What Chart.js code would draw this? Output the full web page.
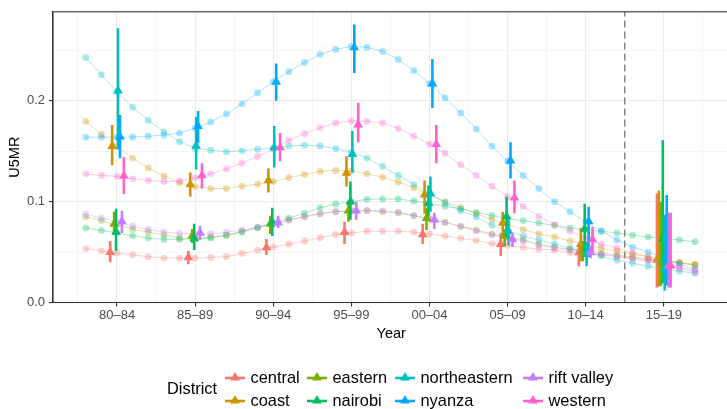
<!DOCTYPE html>
<html>
<head>
<meta charset="utf-8">
<script src="https://cdn.jsdelivr.net/npm/chart.js@4.4.0/dist/chart.umd.min.js"></script>
<style>
  html, body { margin: 0; padding: 0; background: #fff; overflow: hidden; }
  body { width: 727px; height: 409px; position: relative; font-family: 'Liberation Sans', Arial, sans-serif; }
  #wrap { position: absolute; left: 0; top: 0; width: 735px; height: 409px; }
  .leg { position: absolute; font-size: 16.4px; color: #000; white-space: nowrap; line-height: 20px; height: 20px; }
  .leg svg { position: absolute; left: 0; top: 3px; }
</style>
</head>
<body>
<div id="wrap"><canvas id="chart" width="735" height="409"></canvas></div>
<div id="legend"></div>
<script>
// districts and colours (ggplot hue palette)
const districts = ['central', 'coast', 'eastern', 'nairobi', 'northeastern', 'nyanza', 'rift valley', 'western'];
const colors = ['#F8766D', '#CD9600', '#7CAE00', '#00BE67', '#00BFC4', '#00A9FF', '#C77CFF', '#FF61CC'];

// 5-year periods
const periodLabels = ['80–84', '85–89', '90–94', '95–99', '00–04', '05–09', '10–14', '15–19'];
const periodYears = [1982, 1987, 1992, 1997, 2002, 2007, 2012, 2017];
const cutoffYear = 2014.5;

// y axis ticks
const yTicks = [0, 0.05, 0.1, 0.15, 0.2, 0.25];
const yMax = 0.2883;

// yearly smoothed estimates
const smoothYears = [1980, 1981, 1982, 1983, 1984, 1985, 1986, 1987, 1988, 1989,
  1990, 1991, 1992, 1993, 1994, 1995, 1996, 1997, 1998, 1999,
  2000, 2001, 2002, 2003, 2004, 2005, 2006, 2007, 2008, 2009,
  2010, 2011, 2012, 2013, 2014, 2015, 2016, 2017, 2018, 2019];

const smoothCentral = [.0535, .0512, .049, .0473, .0454, .0441, .0441, .0441, .0447, .0454,
  .0486, .0519, .055, .0578, .061, .0642, .0675, .069, .0707, .0707,
  .0707, .0698, .068, .0659, .0636, .0614, .0584, .0565, .0545, .0529,
  .052, .0496, .0483, .0473, .0454, .0441, .0424, .041, .0395, .037];
const smoothCoast = [.1797, .1667, .155, .1432, .1335, .1254, .1188, .115, .113, .113,
  .1153, .1173, .120, .1237, .127, .130, .131, .1305, .1276, .1244,
  .1195, .1137, .107, .100, .0941, .088, .0821, .077, .0724, .068,
  .065, .061, .058, .0538, .051, .048, .0454, .043, .0398, .038];
const smoothEastern = [.085, .0812, .077, .0727, .0698, .067, .064, .0635, .065, .067,
  .0705, .074, .078, .082, .085, .088, .090, .091, .091, .090,
  .089, .086, .083, .0795, .0755, .072, .068, .065, .062, .058,
  .055, .053, .051, .049, .047, .045, .043, .041, .039, .037];
const smoothNairobi = [.074, .0714, .069, .0662, .0639, .0626, .0626, .063, .064, .0665,
  .0698, .0746, .079, .0837, .0886, .0941, .0977, .100, .1023, .1026,
  .1026, .1007, .098, .0955, .0929, .0893, .0863, .083, .0812, .0788,
  .0766, .074, .072, .0707, .069, .0668, .0649, .0635, .062, .0603];
const smoothNortheastern = [.243, .2259, .209, .1937, .1807, .1693, .1595, .153, .151, .1495,
  .1504, .152, .153, .1553, .156, .1553, .1527, .149, .1432, .1351,
  .126, .117, .108, .099, .091, .0847, .0766, .071, .0659, .062,
  .058, .054, .050, .046, .042, .039, .036, .033, .031, .029];
const smoothNyanza = [.164, .164, .164, .164, .165, .166, .168, .173, .179, .187,
  .197, .208, .219, .229, .238, .246, .251, .254, .253, .249,
  .241, .230, .217, .203, .188, .172, .155, .140, .126, .113,
  .100, .090, .080, .071, .062, .055, .050, .044, .038, .033];
const smoothRiftValley = [.0876, .0837, .080, .0756, .0724, .0698, .0685, .068, .0681, .0698,
  .0717, .0746, .078, .0815, .0854, .088, .0902, .091, .0912, .0909,
  .0895, .0865, .083, .0795, .0755, .071, .067, .064, .061, .057,
  .054, .052, .050, .048, .046, .043, .041, .038, .035, .032];
const smoothWestern = [.1276, .126, .125, .1227, .1211, .120, .1205, .1235, .1276, .1325,
  .1383, .1449, .152, .1608, .1676, .1732, .178, .180, .1797, .178,
  .1725, .165, .157, .148, .1364, .126, .1153, .105, .0951, .0854,
  .0773, .0707, .064, .0578, .0538, .0496, .045, .039, .034, .030];

// period estimates with intervals
const estCentral = [.050, .0447, .0545, .0698, .0675, .0578, .0496, .0421];
const loCentral = [.040, .038, .047, .058, .058, .046, .036, .015];
const hiCentral = [.061, .051, .063, .080, .078, .069, .058, .108];
const estCoast = [.155, .117, .121, .1286, .107, .0788, .0578, .045];
const loCoast = [.136, .105, .109, .115, .088, .064, .041, .016];
const hiCoast = [.176, .129, .133, .145, .121, .090, .074, .111];
const estEastern = [.078, .066, .078, .091, .0837, .0659, .0512, .040];
const loEastern = [.067, .059, .068, .080, .072, .056, .041, .016];
const hiEastern = [.090, .073, .086, .101, .094, .073, .061, .100];
const estNairobi = [.070, .0636, .0795, .100, .0984, .0854, .073, .0636];
const loNairobi = [.051, .052, .066, .082, .086, .066, .048, .019];
const hiNairobi = [.093, .078, .094, .120, .116, .105, .098, .161];
const estNortheastern = [.210, .1553, .1537, .1471, .1081, .0707, .048, .0334];
const loNortheastern = [.152, .132, .134, .1286, .090, .057, .036, .012];
const hiNortheastern = [.272, .184, .175, .170, .125, .082, .060, .087];
const estNyanza = [.1644, .1748, .2187, .2529, .2171, .1407, .0805, .0431];
const loNyanza = [.143, .158, .200, .2275, .193, .123, .051, .017];
const hiNyanza = [.186, .190, .237, .2756, .2415, .159, .095, .1065];
const estRiftValley = [.0805, .069, .0795, .091, .0821, .0626, .0496, .0366];
const loRiftValley = [.069, .062, .074, .082, .073, .055, .044, .015];
const hiRiftValley = [.091, .076, .086, .100, .089, .069, .056, .089];
const estWestern = [.1254, .126, .1537, .1764, .1569, .1039, .0626, .0366];
const loWestern = [.1075, .113, .140, .159, .138, .0886, .050, .015];
const hiWestern = [.144, .138, .168, .198, .176, .121, .075, .089];

const smooth = [smoothCentral, smoothCoast, smoothEastern, smoothNairobi, smoothNortheastern, smoothNyanza, smoothRiftValley, smoothWestern];
const est = [estCentral, estCoast, estEastern, estNairobi, estNortheastern, estNyanza, estRiftValley, estWestern];
const lo = [loCentral, loCoast, loEastern, loNairobi, loNortheastern, loNyanza, loRiftValley, loWestern];
const hi = [hiCentral, hiCoast, hiEastern, hiNairobi, hiNortheastern, hiNyanza, hiRiftValley, hiWestern];

function alpha(hex, a) {
  const n = parseInt(hex.slice(1), 16);
  return `rgba(${n >> 16},${(n >> 8) & 255},${n & 255},${a})`;
}

const dodge = 1 / districts.length;
const datasets = [];

// dashed separator
datasets.push({
  type: 'line',
  data: [{ x: cutoffYear, y: 0 }, { x: cutoffYear, y: yMax }],
  borderColor: '#808080', borderWidth: 1.4, borderDash: [7, 4],
  pointRadius: 0, order: 20
});

districts.forEach((d, i) => {
  const off = (i - (districts.length - 1) / 2) * dodge;
  datasets.push({
    type: 'line',
    data: smoothYears.map((yr, j) => ({ x: yr, y: smooth[i][j] })),
    borderColor: alpha(colors[i], 0.33), borderWidth: 1,
    pointRadius: 3.4, pointBackgroundColor: alpha(colors[i], 0.33), pointBorderWidth: 0,
    order: 10 + (7 - i) * 0.01
  });
  const bars = [];
  periodYears.forEach((p, k) => {
    bars.push({ x: p + off, y: lo[i][k] }, { x: p + off, y: hi[i][k] }, { x: p + off, y: null });
  });
  datasets.push({
    type: 'line', data: bars, spanGaps: false,
    borderColor: colors[i], borderWidth: 2.6, borderCapStyle: 'butt',
    pointRadius: 0, order: 1 + (7 - i) * 0.01 + 0.005
  });
  datasets.push({
    type: 'line', showLine: false,
    data: periodYears.map((p, k) => ({ x: p + off, y: est[i][k] })),
    pointStyle: 'triangle', pointRadius: 5.6,
    pointBackgroundColor: colors[i], pointBorderWidth: 0,
    order: 1 + (7 - i) * 0.01
  });
});

const xMinor = [1979.5, 1984.5, 1989.5, 1994.5, 1999.5, 2004.5, 2009.5, 2014.5, 2019.5];
const tickFont = { family: 'Liberation Sans', size: 13 };
const titleFont = { family: 'Liberation Sans', size: 14.5 };

const panelBorder = {
  id: 'panelBorder',
  afterDatasetsDraw(chart) {
    const { ctx, chartArea: a } = chart;
    ctx.save();
    ctx.strokeStyle = '#333333';
    ctx.lineWidth = 1.1;
    ctx.strokeRect(a.left, a.top, a.right - a.left, a.bottom - a.top);
    ctx.restore();
  }
};

new Chart(document.getElementById('chart'), {
  type: 'line',
  data: { datasets },
  options: {
    responsive: false, animation: false, events: [],
    layout: { padding: { top: 7, left: 0, right: 4, bottom: 61 } },
    plugins: { legend: { display: false }, tooltip: { enabled: false } },
    scales: {
      x: {
        type: 'linear', min: 1977.9, max: 2021.2,
        afterBuildTicks: s => { s.ticks = periodYears.concat(xMinor).sort((a, b) => a - b).map(v => ({ value: v })); },
        afterFit: s => { s.height = 45.5; },
        ticks: {
          autoSkip: false, maxRotation: 0, padding: 1, color: '#4d4d4d', font: tickFont,
          callback: v => { const k = periodYears.indexOf(v); return k >= 0 ? periodLabels[k] : ''; }
        },
        grid: {
          color: c => periodYears.includes(c.tick.value) ? '#ebebeb' : '#f2f2f2',
          lineWidth: c => periodYears.includes(c.tick.value) ? 1.1 : 0.8,
          tickColor: c => periodYears.includes(c.tick.value) ? '#333333' : 'rgba(0,0,0,0)',
          tickLength: 4
        },
        border: { display: true, color: '#333333', width: 1.1 },
        title: { display: true, text: 'Year', color: '#000', font: titleFont, padding: { top: 0, bottom: 5 } }
      },
      y: {
        type: 'linear', min: 0, max: yMax,
        afterBuildTicks: s => { s.ticks = yTicks.map(v => ({ value: v })); },
        afterFit: s => { s.width = 53; },
        ticks: {
          padding: 4, color: '#4d4d4d', font: tickFont,
          callback: v => (Math.round(v * 100) % 10 === 0 ? v.toFixed(1) : '')
        },
        grid: {
          color: c => (Math.round(c.tick.value * 100) % 10 === 0 ? '#ebebeb' : '#f2f2f2'),
          lineWidth: c => (Math.round(c.tick.value * 100) % 10 === 0 ? 1.1 : 0.8),
          tickColor: c => (Math.round(c.tick.value * 100) % 10 === 0 ? '#333333' : 'rgba(0,0,0,0)'),
          tickLength: 4
        },
        border: { display: true, color: '#333333', width: 1.1 },
        title: { display: true, text: 'U5MR', color: '#000', font: titleFont, padding: { top: 6, bottom: 0 } }
      }
    }
  },
  plugins: [panelBorder]
});

// legend: 2 rows, filled by column
const legend = document.getElementById('legend');
const keyLeft = [225, 307, 395, 523];
const rowMid = [377, 400];
let html = '<div class="leg" style="left:167px;top:378px">District</div>';
districts.forEach((d, i) => {
  const col = Math.floor(i / 2), row = i % 2;
  html += `<div class="leg" style="left:${keyLeft[col]}px;top:${rowMid[row] - 10}px;padding-left:25.5px">` +
    `<svg width="20" height="14"><line x1="0" y1="8" x2="20" y2="8" stroke="${colors[i]}" stroke-width="2.6"/>` +
    `<polygon points="10,2 14.9,10.5 5.1,10.5" fill="${colors[i]}"/></svg>${d}</div>`;
});
legend.innerHTML = html;
</script>
</body>
</html>
